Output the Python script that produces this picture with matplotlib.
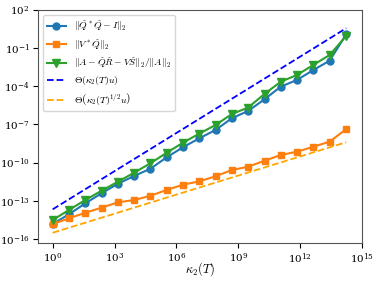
import matplotlib
matplotlib.use("Agg")
import matplotlib.pyplot as plt
import matplotlib.ticker as mticker
import numpy as np

plt.rcParams['mathtext.fontset'] = 'cm'
plt.rcParams['font.family'] = 'serif'
plt.rcParams['font.serif'] = ['DejaVu Serif']

# log10 of kappa_2(T) for each test matrix
kappa_exp = [0.0, 0.79, 1.58, 2.37, 3.16, 3.95, 4.74, 5.53, 6.32, 7.11,
             7.9, 8.69, 9.48, 10.27, 11.06, 11.85, 12.64, 13.43, 14.23]

# log10 of the measured errors
orth_err = [-14.82, -14.06, -13.20, -12.41, -11.66, -11.05, -10.48, -9.58, -8.79, -8.09,
            -7.43, -6.51, -5.94, -5.02, -4.03, -3.50, -2.72, -1.99, 0.09]
cross_err = [-14.82, -14.38, -13.94, -13.54, -13.12, -12.94, -12.60, -12.15, -11.73, -11.47,
             -11.07, -10.58, -10.32, -9.85, -9.40, -9.14, -8.75, -8.35, -7.36]
resid_err = [-14.51, -13.72, -12.94, -12.21, -11.50, -10.79, -10.05, -9.22, -8.43, -7.72,
             -7.04, -6.18, -5.67, -4.60, -3.64, -3.11, -2.32, -1.54, -0.04]

# reference slopes, log10 values at first and last kappa
theta1_ends = [-13.67, 0.56]
theta_half_ends = [-15.51, -8.40]

kappa = 10.0 ** np.array(kappa_exp)
kappa_ends = kappa[[0, -1]]

fig = plt.figure(figsize=(3.78, 2.82), dpi=100)
ax = fig.add_axes([0.1005, 0.138, 0.8575, 0.827])

ax.loglog(kappa, 10.0 ** np.array(orth_err), '-o', color='#1f77b4', ms=5, lw=1.5,
          label=r'$\|\hat{Q}^*\hat{Q} - I\|_2$')
ax.loglog(kappa, 10.0 ** np.array(cross_err), '-s', color='#ff7f0e', ms=5, lw=1.5,
          label=r'$\|V^*\hat{Q}\|_2$')
ax.loglog(kappa, 10.0 ** np.array(resid_err), '-v', color='#2ca02c', ms=5.5, lw=1.5,
          label=r'$\|A - \hat{Q}\hat{R} - V\hat{S}\|_2/\|A\|_2$')
ax.loglog(kappa_ends, 10.0 ** np.array(theta1_ends), '--', color='blue', lw=1.3,
          label=r'$\Theta\left(\kappa_2(T)u\right)$')
ax.loglog(kappa_ends, 10.0 ** np.array(theta_half_ends), '--', color='orange', lw=1.3,
          label=r'$\Theta\left(\kappa_2(T)^{1/2}u\right)$')

ax.set_xlim(10 ** -0.71, 1e15)
ax.set_ylim(10 ** -16.32, 1e2)
ax.set_xticks([10.0 ** k for k in range(0, 16, 3)])
ax.set_yticks([10.0 ** k for k in range(-16, 3, 3)])
ax.xaxis.set_minor_locator(mticker.NullLocator())
ax.yaxis.set_minor_locator(mticker.NullLocator())
ax.tick_params(labelsize=7.5, pad=2.5)
for s in ax.spines.values():
    s.set_color('#555555')

ax.set_xlabel(r'$\kappa_2(T)$', fontsize=9)
ax.xaxis.set_label_coords(0.5, -0.075)
ax.legend(loc='upper left', fontsize=7, labelspacing=0.4)

fig.savefig('out.png', dpi=100)
